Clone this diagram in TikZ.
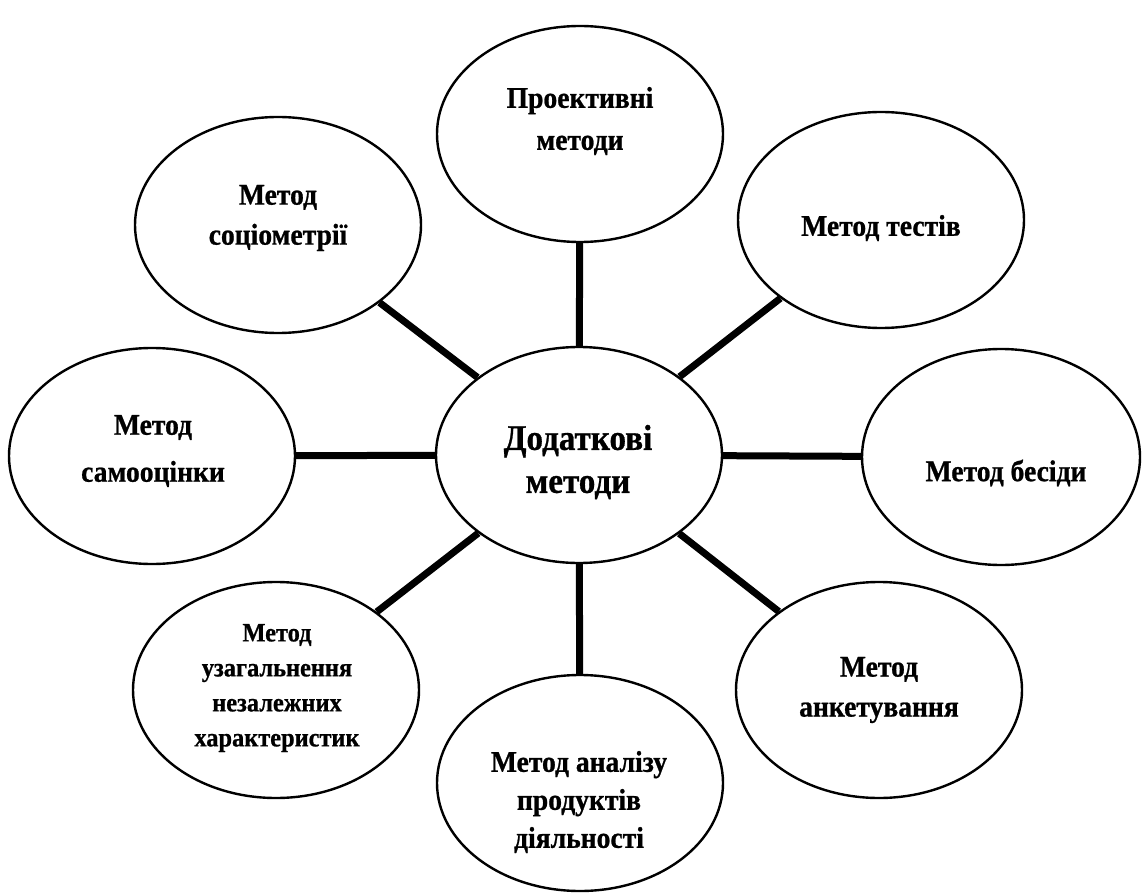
\documentclass[tikz,border=0pt]{standalone}
\usepackage{fontspec}
\setmainfont{Liberation Serif}
\newfontfamily\labfont[FakeStretch=0.92, FakeBold=0.8]{Liberation Serif Bold}
\usetikzlibrary{shapes.geometric}
\begin{document}
\begin{tikzpicture}[x=1pt,y=-1pt,
  oval/.style={ellipse, draw, line width=2.4pt, fill=white, minimum width=286pt, minimum height=216pt, inner sep=0pt},
  conn/.style={line width=7pt},
  lbl/.style={font=\labfont\fontsize{30}{40}\selectfont, align=center, inner sep=0pt},
  big/.style={font=\labfont\fontsize{36}{43}\selectfont, align=center, inner sep=0pt},
  small/.style={font=\labfont\fontsize{26.5}{35}\selectfont, align=center, inner sep=0pt}]
\useasboundingbox (0,0) rectangle (1142,893);
% ellipses
\node[oval] (c)  at (579,455) {};
\node[oval] (t)  at (580,134) {};
\node[oval] (tl) at (278,225) {};
\node[oval] (tr) at (881,220) {};
\node[oval] (l)  at (152,456) {};
\node[oval, minimum width=278pt] (r)  at (1001,457) {};
\node[oval] (bl) at (276,690) {};
\node[oval] (b)  at (580,783) {};
\node[oval] (br) at (879,690) {};
% connectors
\foreach \n in {t,tl,tr,l,r,bl,b,br}{\draw[conn] (c) -- (\n);}
% labels
\node[big] (tc) at (578,462) {Додаткові\\методи};
\node[lbl, font=\labfont\fontsize{30}{42}\selectfont] (tt) at (580,121) {Проективні\\методи};
\node[lbl] (ttl) at (278,218) {Метод\\соціометрії};
\node[lbl] (ttr) at (881,228) {Метод тестів};
\node[lbl, font=\labfont\fontsize{30}{47}\selectfont] (tlf) at (153,451) {Метод\\самооцінки};
\node[lbl] (trt) at (1006,473) {Метод бесіди};
\node[small] (tbl) at (277,688) {Метод\\узагальнення\\незалежних\\характеристик};
\node[lbl, font=\labfont\fontsize{30}{38}\selectfont] (tb) at (579,802) {Метод аналізу\\продуктів\\діяльності};
\node[lbl] (tbr) at (879,690) {Метод\\анкетування};
\end{tikzpicture}
\end{document}
